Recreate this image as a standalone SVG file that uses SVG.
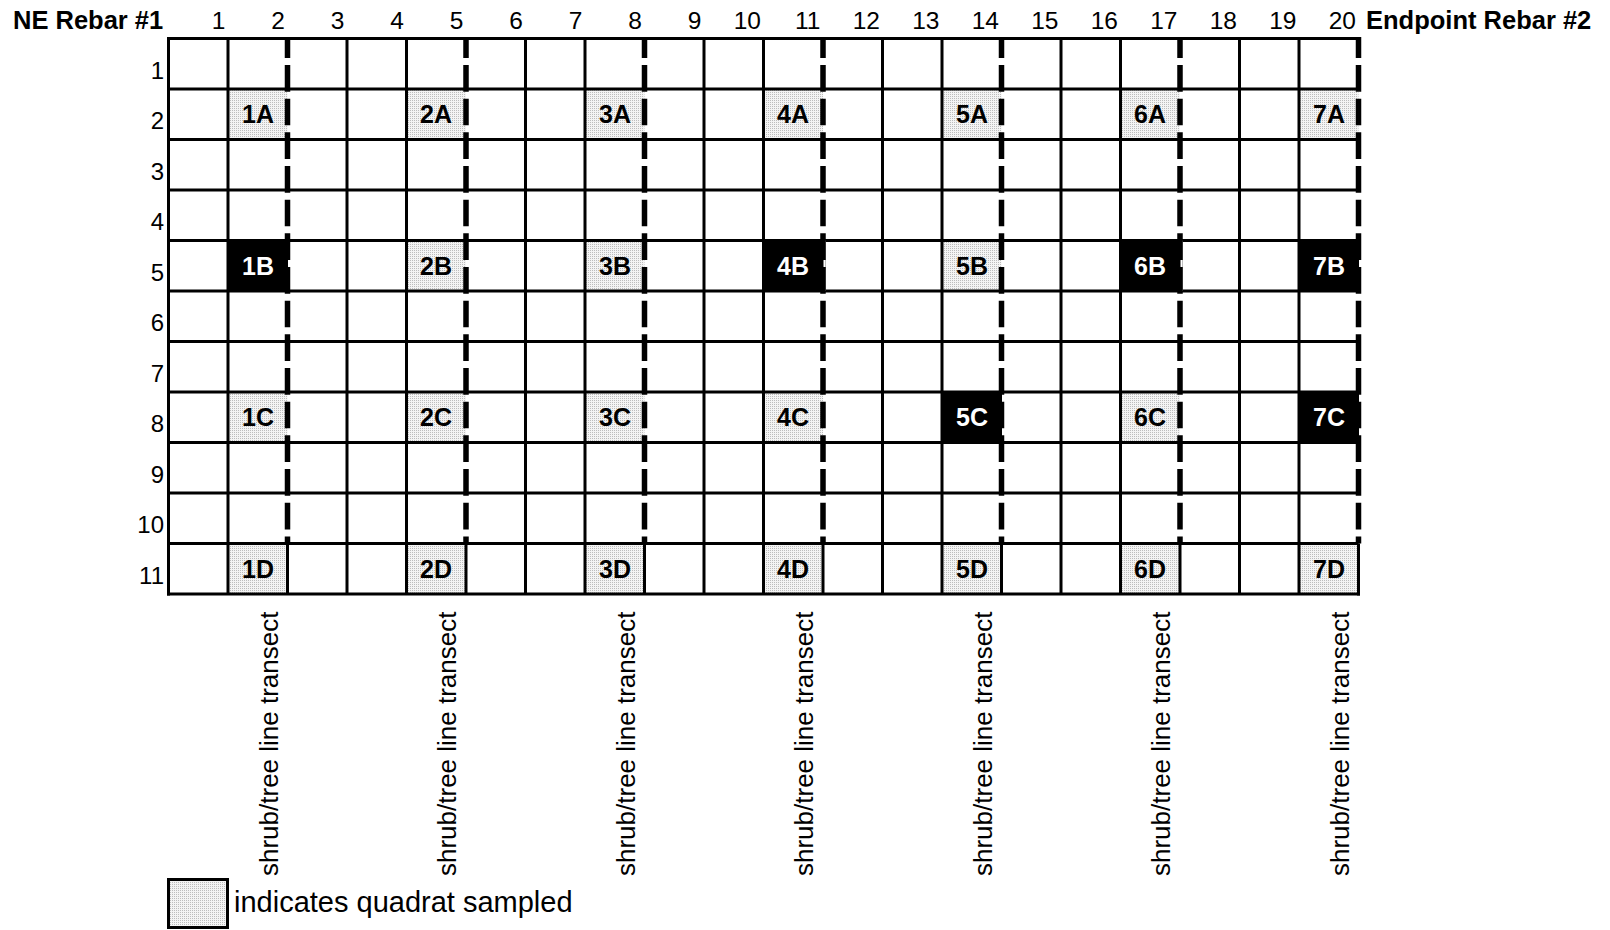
<svg xmlns="http://www.w3.org/2000/svg" width="1610" height="930" viewBox="0 0 1610 930">
<defs>
<pattern id="stip" width="2" height="2" patternUnits="userSpaceOnUse">
<rect width="2" height="2" fill="#f4f4f4"/>
<rect width="1" height="1" fill="#bdbdbd"/>
</pattern>
<style>
text{font-family:"Liberation Sans",Arial,sans-serif;fill:#000}
.hd{font-size:24.5px;text-anchor:end}
.hb{font-size:25.5px;font-weight:bold}
.rl{font-size:24px;text-anchor:end}
.cl{font-size:25px;font-weight:bold;text-anchor:middle}
.cw{fill:#fff}
.vt{font-size:26px}
.lg{font-size:29px}
.samp{fill:url(#stip)}
.blk{fill:#000}
.gl{stroke:#000;stroke-width:3;fill:none}
.dl{stroke:#000;stroke-width:5.5;fill:none;stroke-dasharray:26.67 7;stroke-dashoffset:5.67}
.wl{stroke:#fff;stroke-width:2;fill:none}
</style>
</defs>
<rect width="1610" height="930" fill="#fff"/>

<g id="headers">
<text class="hb" x="13" y="29">NE Rebar #1</text>
<text class="hd" x="225.5" y="29">1</text>
<text class="hd" x="285" y="29">2</text>
<text class="hd" x="344.5" y="29">3</text>
<text class="hd" x="404" y="29">4</text>
<text class="hd" x="463.5" y="29">5</text>
<text class="hd" x="523" y="29">6</text>
<text class="hd" x="582.5" y="29">7</text>
<text class="hd" x="642" y="29">8</text>
<text class="hd" x="701.5" y="29">9</text>
<text class="hd" x="761" y="29">10</text>
<text class="hd" x="820.5" y="29">11</text>
<text class="hd" x="880" y="29">12</text>
<text class="hd" x="939.5" y="29">13</text>
<text class="hd" x="999" y="29">14</text>
<text class="hd" x="1058.5" y="29">15</text>
<text class="hd" x="1118" y="29">16</text>
<text class="hd" x="1177.5" y="29">17</text>
<text class="hd" x="1237" y="29">18</text>
<text class="hd" x="1296.5" y="29">19</text>
<text class="hd" x="1356" y="29">20</text>
<text class="hb" x="1366" y="29">Endpoint Rebar #2</text>
</g>

<g id="row-labels">
<text class="rl" x="164" y="78.5">1</text>
<text class="rl" x="164" y="129">2</text>
<text class="rl" x="164" y="179.5">3</text>
<text class="rl" x="164" y="230">4</text>
<text class="rl" x="164" y="280.5">5</text>
<text class="rl" x="164" y="331">6</text>
<text class="rl" x="164" y="381.5">7</text>
<text class="rl" x="164" y="432">8</text>
<text class="rl" x="164" y="482.5">9</text>
<text class="rl" x="164" y="533">10</text>
<text class="rl" x="164" y="583.5">11</text>
</g>

<g id="quadrat-fills">
<rect class="samp" x="228" y="89" width="59.5" height="50.5"/>
<rect class="samp" x="406.5" y="89" width="59.5" height="50.5"/>
<rect class="samp" x="585" y="89" width="59.5" height="50.5"/>
<rect class="samp" x="763.5" y="89" width="59.5" height="50.5"/>
<rect class="samp" x="942" y="89" width="59.5" height="50.5"/>
<rect class="samp" x="1120.5" y="89" width="59.5" height="50.5"/>
<rect class="samp" x="1299" y="89" width="59.5" height="50.5"/>
<rect class="blk" x="228" y="240.5" width="62" height="50.5"/>
<rect class="samp" x="406.5" y="240.5" width="59.5" height="50.5"/>
<rect class="samp" x="585" y="240.5" width="59.5" height="50.5"/>
<rect class="blk" x="763.5" y="240.5" width="62" height="50.5"/>
<rect class="samp" x="942" y="240.5" width="59.5" height="50.5"/>
<rect class="blk" x="1120.5" y="240.5" width="62" height="50.5"/>
<rect class="blk" x="1299" y="240.5" width="61" height="50.5"/>
<rect class="samp" x="228" y="392" width="59.5" height="50.5"/>
<rect class="samp" x="406.5" y="392" width="59.5" height="50.5"/>
<rect class="samp" x="585" y="392" width="59.5" height="50.5"/>
<rect class="samp" x="763.5" y="392" width="59.5" height="50.5"/>
<rect class="blk" x="942" y="392" width="62" height="50.5"/>
<rect class="samp" x="1120.5" y="392" width="59.5" height="50.5"/>
<rect class="blk" x="1299" y="392" width="61" height="50.5"/>
<rect class="samp" x="228" y="543.5" width="59.5" height="50.5"/>
<rect class="samp" x="406.5" y="543.5" width="59.5" height="50.5"/>
<rect class="samp" x="585" y="543.5" width="59.5" height="50.5"/>
<rect class="samp" x="763.5" y="543.5" width="59.5" height="50.5"/>
<rect class="samp" x="942" y="543.5" width="59.5" height="50.5"/>
<rect class="samp" x="1120.5" y="543.5" width="59.5" height="50.5"/>
<rect class="samp" x="1299" y="543.5" width="59.5" height="50.5"/>
</g>

<g id="grid">
<path class="gl" d="M168.5 38.5H1358.5M168.5 89H1358.5M168.5 139.5H1358.5M168.5 190H1358.5M168.5 240.5H1358.5M168.5 291H1358.5M168.5 341.5H1358.5M168.5 392H1358.5M168.5 442.5H1358.5M168.5 493H1358.5M168.5 543.5H1358.5M167 594H1360"/>
<path class="gl" d="M168.5 37V595.5M228 38.5V594M347 38.5V594M406.5 38.5V594M525.5 38.5V594M585 38.5V594M704 38.5V594M763.5 38.5V594M882.5 38.5V594M942 38.5V594M1061 38.5V594M1120.5 38.5V594M1239.5 38.5V594M1299 38.5V594"/>
<path class="gl" d="M287.5 543.5V594M466 543.5V594M644.5 543.5V594M823 543.5V594M1001.5 543.5V594M1180 543.5V594M1358.5 543.5V595.5"/>
</g>

<g id="transect-lines">
<path class="wl" d="M289 240.5V291M824.5 240.5V291M1181.5 240.5V291M1360 240.5V291M1003 392V442.5M1360 392V442.5"/>
<path class="dl" d="M287.5 37V543.5M466 37V543.5M644.5 37V543.5M823 37V543.5M1001.5 37V543.5M1180 37V543.5M1358.5 37V543.5"/>
</g>

<g id="quadrat-labels">
<text class="cl" x="258" y="123">1A</text>
<text class="cl" x="436" y="123">2A</text>
<text class="cl" x="615" y="123">3A</text>
<text class="cl" x="793" y="123">4A</text>
<text class="cl" x="972" y="123">5A</text>
<text class="cl" x="1150" y="123">6A</text>
<text class="cl" x="1329" y="123">7A</text>
<text class="cl cw" x="258" y="274.5">1B</text>
<text class="cl" x="436" y="274.5">2B</text>
<text class="cl" x="615" y="274.5">3B</text>
<text class="cl cw" x="793" y="274.5">4B</text>
<text class="cl" x="972" y="274.5">5B</text>
<text class="cl cw" x="1150" y="274.5">6B</text>
<text class="cl cw" x="1329" y="274.5">7B</text>
<text class="cl" x="258" y="426">1C</text>
<text class="cl" x="436" y="426">2C</text>
<text class="cl" x="615" y="426">3C</text>
<text class="cl" x="793" y="426">4C</text>
<text class="cl cw" x="972" y="426">5C</text>
<text class="cl" x="1150" y="426">6C</text>
<text class="cl cw" x="1329" y="426">7C</text>
<text class="cl" x="258" y="577.5">1D</text>
<text class="cl" x="436" y="577.5">2D</text>
<text class="cl" x="615" y="577.5">3D</text>
<text class="cl" x="793" y="577.5">4D</text>
<text class="cl" x="972" y="577.5">5D</text>
<text class="cl" x="1150" y="577.5">6D</text>
<text class="cl" x="1329" y="577.5">7D</text>
</g>

<g id="transect-labels">
<text class="vt" transform="translate(278 876) rotate(-90)">shrub/tree line transect</text>
<text class="vt" transform="translate(456 876) rotate(-90)">shrub/tree line transect</text>
<text class="vt" transform="translate(635 876) rotate(-90)">shrub/tree line transect</text>
<text class="vt" transform="translate(813 876) rotate(-90)">shrub/tree line transect</text>
<text class="vt" transform="translate(992 876) rotate(-90)">shrub/tree line transect</text>
<text class="vt" transform="translate(1170 876) rotate(-90)">shrub/tree line transect</text>
<text class="vt" transform="translate(1349 876) rotate(-90)">shrub/tree line transect</text>
</g>

<g id="legend">
<rect x="168.5" y="879.5" width="59" height="48" fill="url(#stip)" stroke="#000" stroke-width="3"/>
<text class="lg" x="234" y="912">indicates quadrat sampled</text>
</g>
</svg>
